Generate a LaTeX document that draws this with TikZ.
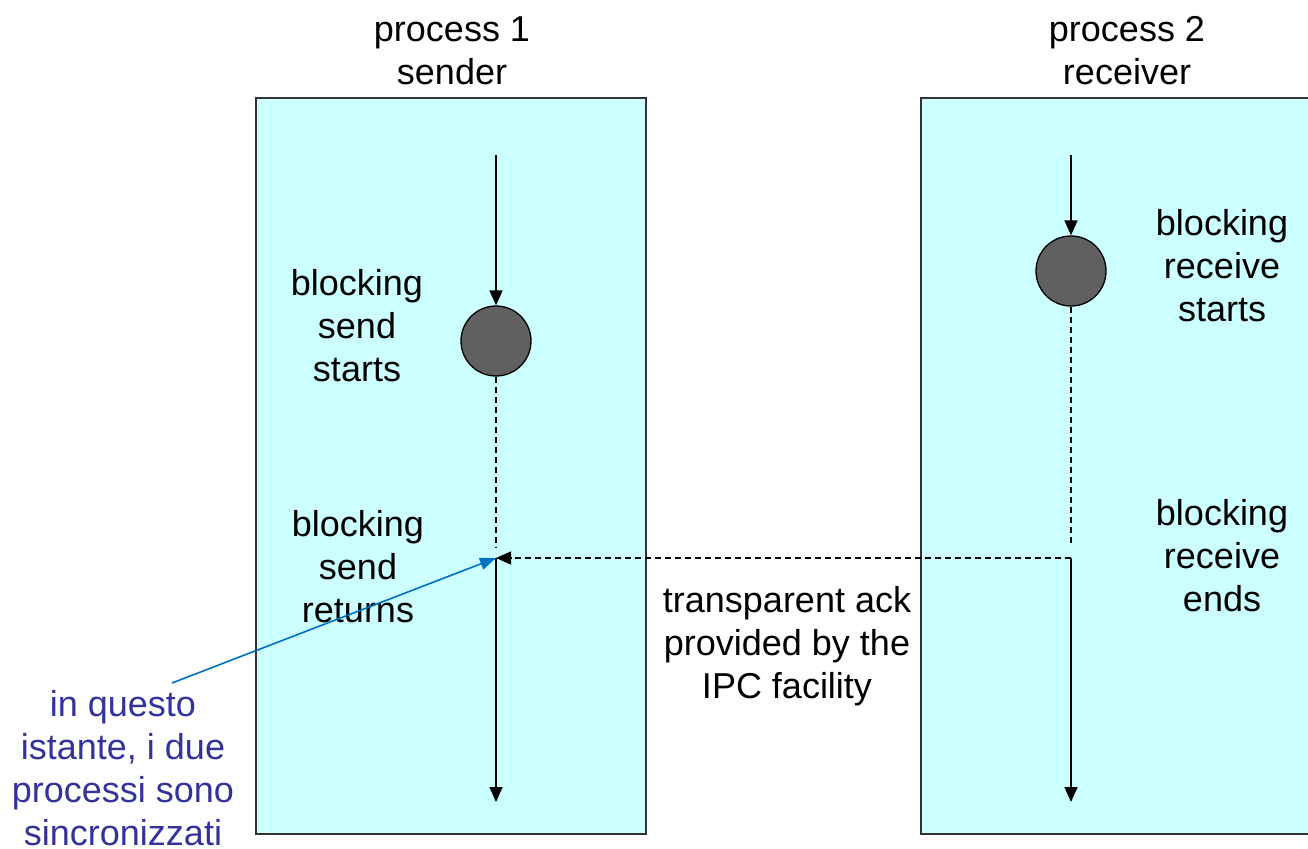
\documentclass[tikz,border=0pt]{standalone}
\usepackage{fontspec}
\setmainfont{Liberation Sans}
\usetikzlibrary{arrows.meta}
\definecolor{boxfill}{RGB}{204,255,255}
\definecolor{boxline}{RGB}{51,51,51}
\definecolor{notecol}{RGB}{51,51,153}
\definecolor{pointer}{RGB}{0,112,192}
\definecolor{ballfill}{RGB}{96,96,96}
\tikzset{
  procbox/.style={draw=boxline, fill=boxfill, line width=2pt},
  lbl/.style={font=\fontsize{36}{43}\selectfont, align=center, inner sep=0pt},
  ball/.style={circle, draw=black, fill=ballfill, line width=1.3pt, minimum size=70pt, inner sep=0pt},
  flow/.style={line width=1.6pt, -{Triangle[width=13pt,length=15pt]}},
  wait/.style={line width=1.6pt, dash pattern=on 6pt off 4pt},
  ack/.style={line width=1.6pt, dash pattern=on 6pt off 4pt, -{Triangle[width=13pt,length=15pt]}},
  note/.style={draw=pointer, line width=1.6pt, -{Triangle[width=12pt,length=16pt]}}
}
\begin{document}
\begin{tikzpicture}[x=1pt,y=-1pt]
\useasboundingbox (0,0) rectangle (1308,848);
\clip (0,0) rectangle (1308,848);
% boxes
\draw[procbox] (256,98) rectangle (646,834);
\draw[procbox] (921,98) rectangle (1330,834);
% titles
\node[lbl] (t1) at (452,51) {process 1\\sender};
\node[lbl] (t2) at (1127,51) {process 2\\receiver};
% labels
\node[lbl] (ss) at (357,326) {blocking\\send\\starts};
\node[lbl] (sr) at (358,567) {blocking\\send\\returns};
\node[lbl] (rs) at (1222,266) {blocking\\receive\\starts};
\node[lbl] (re) at (1222,556) {blocking\\receive\\ends};
\node[lbl] (ta) at (787,646) {transparent ack\\provided by the\\IPC facility};
\node[lbl, text=notecol] (nt) at (123,768) {in questo\\istante, i due\\processi sono\\sincronizzati};
% sender line
\node[ball] (b1) at (496,341) {};
\coordinate (s0) at (496,155);
\coordinate (s1) at (496,548);
\coordinate (sj) at (496,558);
\coordinate (s2) at (496,802);
\draw[flow] (s0) -- (b1.north);
\draw[wait] (b1.south) -- (s1);
\draw[flow] (sj) -- (s2);
% receiver line
\node[ball] (b2) at (1071,271) {};
\coordinate (r0) at (1071,155);
\coordinate (r1) at (1071,546);
\coordinate (rj) at (1071,558);
\coordinate (r2) at (1071,802);
\draw[flow] (r0) -- (b2.north);
\draw[wait] (b2.south) -- (r1);
\draw[flow] (rj) -- (r2);
% pointer
\coordinate (np) at (172,683);
\draw[note] (np) -- (sj);
% ack
\draw[ack] (rj) -- (sj);
\end{tikzpicture}
\end{document}
